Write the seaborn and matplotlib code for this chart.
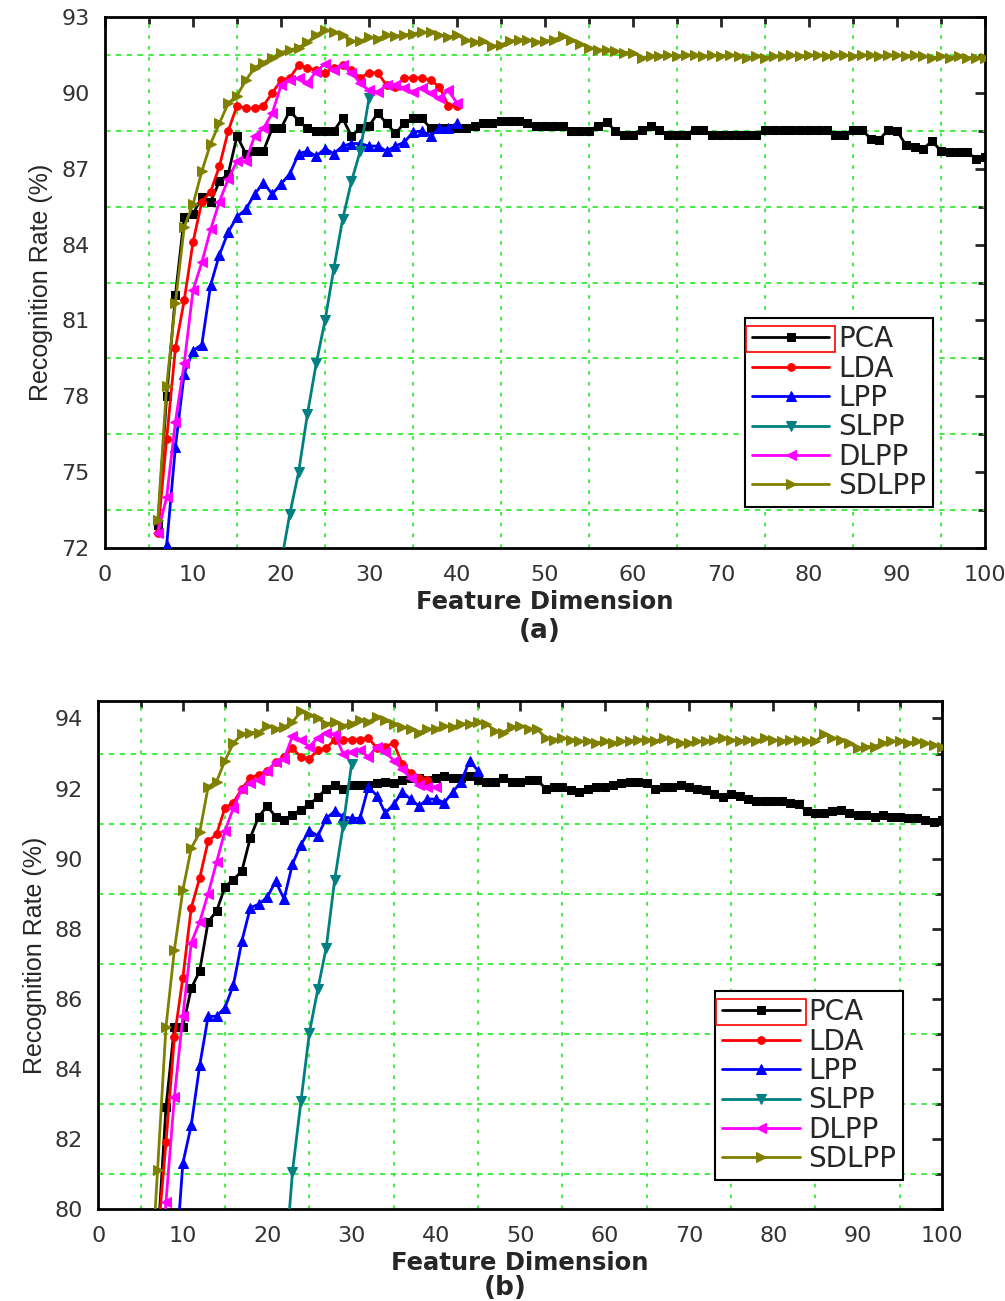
import numpy as np
import pandas as pd
import seaborn as sns
import matplotlib.pyplot as plt
from matplotlib.ticker import MultipleLocator
from matplotlib.patches import Rectangle

# ---- data, panel (a) ----
dim_a_long = list(range(6, 101))
pca_a = [72.9, 78.0, 82.0, 85.1, 85.2, 85.9, 85.7, 86.5, 86.8, 88.3,
         87.6, 87.7, 87.7, 88.6, 88.6, 89.3, 88.9, 88.6, 88.5, 88.5,
         88.5, 89.0, 88.3, 88.6, 88.7, 89.2, 88.8, 88.4, 88.8, 89.0,
         89.0, 88.6, 88.6, 88.6, 88.6, 88.6, 88.7, 88.8, 88.8, 88.9,
         88.9, 88.9, 88.8, 88.7, 88.7, 88.7, 88.7, 88.5, 88.5, 88.5,
         88.7, 88.85, 88.5, 88.35, 88.35, 88.55, 88.7, 88.55, 88.35, 88.35,
         88.35, 88.55, 88.55, 88.35, 88.35, 88.35, 88.35, 88.35, 88.35, 88.55,
         88.55, 88.55, 88.55, 88.55, 88.55, 88.55, 88.55, 88.35, 88.35, 88.55,
         88.55, 88.2, 88.15, 88.55, 88.5, 87.95, 87.85, 87.8, 88.1, 87.7,
         87.65, 87.65, 87.65, 87.4, 87.45]
sdlpp_a = [73.1, 78.4, 81.7, 84.7, 85.6, 86.9, 88.0, 88.8, 89.6, 89.9,
           90.5, 91.0, 91.2, 91.4, 91.6, 91.7, 91.8, 92.0, 92.3, 92.5,
           92.4, 92.3, 92.05, 92.05, 92.2, 92.15, 92.3, 92.25, 92.3, 92.35,
           92.4, 92.4, 92.3, 92.2, 92.3, 92.1, 92.0, 92.05, 91.85, 91.9,
           92.05, 92.1, 92.1, 92.0, 92.05, 92.1, 92.25, 92.1, 91.95, 91.8,
           91.7, 91.7, 91.65, 91.6, 91.6, 91.4, 91.45, 91.45, 91.5, 91.45,
           91.5, 91.5, 91.45, 91.5, 91.45, 91.5, 91.45, 91.4, 91.45, 91.4,
           91.45, 91.45, 91.5, 91.45, 91.5, 91.5, 91.45, 91.5, 91.5, 91.45,
           91.5, 91.5, 91.45, 91.5, 91.5, 91.45, 91.5, 91.45, 91.4, 91.45,
           91.4, 91.45, 91.4, 91.4, 91.4]
dim_a_short = list(range(6, 41))
lda_a = [72.6, 76.3, 79.9, 81.8, 84.1, 85.7, 86.1, 87.1, 88.5, 89.5,
         89.4, 89.4, 89.5, 90.0, 90.5, 90.6, 91.1, 91.0, 90.9, 90.8,
         91.0, 91.1, 90.9, 90.6, 90.8, 90.8, 90.3, 90.25, 90.6, 90.6,
         90.6, 90.5, 90.25, 89.5, 89.5]
dlpp_a = [72.6, 74.0, 77.0, 79.3, 82.2, 83.3, 84.6, 85.7, 86.6, 87.3,
          87.3, 88.3, 88.6, 89.2, 90.3, 90.5, 90.6, 90.4, 90.85, 91.15,
          90.9, 91.1, 90.8, 90.4, 90.1, 90.05, 90.3, 90.3, 90.2, 90.05,
          90.2, 90.0, 89.8, 90.1, 89.6]
dim_a_lpp = list(range(7, 41))
lpp_a = [72.1, 76.0, 78.9, 79.8, 80.05, 82.4, 83.6, 84.5, 85.1, 85.4,
         86.0, 86.45, 86.0, 86.4, 86.8, 87.6, 87.7, 87.5, 87.8, 87.6,
         87.9, 88.0, 88.0, 87.9, 87.9, 87.7, 87.9, 88.05, 88.45, 88.5,
         88.3, 88.6, 88.6, 88.8]
dim_a_slpp = list(range(20, 31))
slpp_a = [71.4, 73.35, 75.0, 77.3, 79.3, 81.0, 83.05, 85.0, 86.5, 87.7, 89.8]

# ---- data, panel (b) ----
dim_b_pca = list(range(7, 101))
pca_b = [79.0, 82.9, 85.2, 85.2, 86.3, 86.8, 88.2, 88.5, 89.2, 89.4,
         89.65, 90.6, 91.2, 91.5, 91.2, 91.1, 91.25, 91.4, 91.55, 91.75,
         92.0, 92.1, 92.0, 92.1, 92.1, 92.1, 92.15, 92.2, 92.15, 92.25,
         92.3, 92.3, 92.25, 92.3, 92.35, 92.3, 92.3, 92.35, 92.25, 92.2,
         92.2, 92.3, 92.2, 92.2, 92.25, 92.25, 92.0, 92.05, 92.05, 91.95,
         91.9, 92.0, 92.05, 92.05, 92.1, 92.15, 92.2, 92.2, 92.15, 92.0,
         92.05, 92.05, 92.1, 92.05, 92.0, 91.95, 91.85, 91.75, 91.85, 91.8,
         91.7, 91.65, 91.65, 91.65, 91.65, 91.6, 91.55, 91.35, 91.3, 91.3,
         91.35, 91.4, 91.3, 91.25, 91.25, 91.2, 91.25, 91.2, 91.2, 91.15,
         91.15, 91.1, 91.05, 91.1]
dim_b_sdlpp = list(range(6, 101))
sdlpp_b = [77.0, 81.1, 85.2, 87.4, 89.1, 90.3, 90.75, 92.05, 92.2, 92.8,
           93.3, 93.55, 93.6, 93.6, 93.8, 93.7, 93.75, 93.9, 94.2, 94.1,
           94.0, 93.85, 93.9, 93.8, 93.85, 93.95, 93.9, 94.05, 93.95, 93.85,
           93.75, 93.7, 93.6, 93.7, 93.7, 93.8, 93.75, 93.85, 93.85, 93.9,
           93.85, 93.65, 93.6, 93.75, 93.8, 93.7, 93.7, 93.45, 93.4, 93.45,
           93.4, 93.35, 93.35, 93.3, 93.35, 93.3, 93.35, 93.35, 93.4, 93.4,
           93.35, 93.45, 93.4, 93.3, 93.3, 93.35, 93.35, 93.4, 93.45, 93.4,
           93.35, 93.4, 93.35, 93.45, 93.4, 93.35, 93.4, 93.4, 93.35, 93.35,
           93.55, 93.45, 93.4, 93.3, 93.15, 93.2, 93.2, 93.3, 93.35, 93.35,
           93.3, 93.35, 93.3, 93.25, 93.2]
dim_b_lda = list(range(7, 40))
lda_b = [79.1, 81.9, 84.9, 86.6, 88.6, 89.45, 90.5, 90.7, 91.45, 91.6,
         92.0, 92.3, 92.4, 92.5, 92.75, 92.9, 93.15, 92.9, 92.85, 93.1,
         93.15, 93.4, 93.4, 93.4, 93.4, 93.45, 93.15, 93.2, 93.3, 92.7,
         92.45, 92.3, 92.25]
dim_b_dlpp = list(range(7, 41))
dlpp_b = [77.0, 80.2, 83.2, 85.5, 87.6, 88.2, 89.0, 89.9, 90.8, 91.45,
          92.0, 92.15, 92.25, 92.5, 92.75, 92.85, 93.5, 93.4, 93.2, 93.45,
          93.6, 93.55, 93.0, 93.05, 93.1, 92.9, 93.2, 93.05, 92.8, 92.55,
          92.3, 92.1, 92.05, 92.05]
dim_b_lpp = list(range(9, 46))
lpp_b = [78.0, 81.3, 82.4, 84.1, 85.5, 85.5, 85.75, 86.4, 87.65, 88.6,
         88.7, 88.9, 89.35, 88.85, 89.85, 90.4, 90.8, 90.65, 91.15, 91.35,
         91.2, 91.15, 91.15, 92.05, 91.8, 91.3, 91.55, 91.9, 91.7, 91.5,
         91.7, 91.7, 91.6, 91.9, 92.2, 92.8, 92.5]
dim_b_slpp = list(range(22, 31))
slpp_b = [78.0, 81.07, 83.07, 85.03, 86.27, 87.46, 89.4, 90.93, 92.7]

methods = ['PCA', 'LDA', 'LPP', 'SLPP', 'DLPP', 'SDLPP']
colors = {'PCA': 'black', 'LDA': 'red', 'LPP': 'blue', 'SLPP': '#008080',
          'DLPP': 'magenta', 'SDLPP': '#808000'}
markers = {'PCA': 's', 'LDA': 'o', 'LPP': '^', 'SLPP': 'v', 'DLPP': '<', 'SDLPP': '>'}
msize = {'PCA': 5.5, 'LDA': 5.5, 'LPP': 7, 'SLPP': 7, 'DLPP': 7, 'SDLPP': 7}

panel_a = {'PCA': (dim_a_long, pca_a), 'LDA': (dim_a_short, lda_a),
           'LPP': (dim_a_lpp, lpp_a), 'SLPP': (dim_a_slpp, slpp_a),
           'DLPP': (dim_a_short, dlpp_a), 'SDLPP': (dim_a_long, sdlpp_a)}
panel_b = {'PCA': (dim_b_pca, pca_b), 'LDA': (dim_b_lda, lda_b),
           'LPP': (dim_b_lpp, lpp_b), 'SLPP': (dim_b_slpp, slpp_b),
           'DLPP': (dim_b_dlpp, dlpp_b), 'SDLPP': (dim_b_sdlpp, sdlpp_b)}

sns.set_style('white')
plt.rcParams['font.family'] = ['DejaVu Sans']

fig = plt.figure(figsize=(10.05, 13.01), dpi=100)
ax_a = fig.add_axes([0.1045, 0.5788, 0.8756, 0.408])
ax_b = fig.add_axes([0.098, 0.0707, 0.8393, 0.3905])

grid_green = '#33ee33'


def draw_panel(ax, data, ylim, ymajor, yminor, leg_anchor):
    for m in methods:
        xs, ys = data[m]
        df = pd.DataFrame({'dim': xs, 'rate': ys})
        sns.lineplot(data=df, x='dim', y='rate', ax=ax, color=colors[m],
                     marker=markers[m], markersize=msize[m],
                     markeredgecolor=colors[m], linewidth=2.0,
                     label=m, zorder=3)
    ax.set_xlim(0, 100)
    ax.set_ylim(*ylim)
    ax.xaxis.set_major_locator(MultipleLocator(10))
    ax.xaxis.set_minor_locator(MultipleLocator(5))
    ax.yaxis.set_major_locator(MultipleLocator(ymajor))
    ax.yaxis.set_minor_locator(MultipleLocator(yminor))
    ax.grid(False)
    ax.grid(which='minor', axis='x', color=grid_green, linestyle=(0, (2, 4)), linewidth=1.3)
    ax.grid(which='minor', axis='y', color=grid_green, linestyle=(0, (3, 3)), linewidth=1.3)
    for s in ax.spines.values():
        s.set_linewidth(2)
        s.set_color('black')
    ax.tick_params(axis='x', which='both', direction='out', width=2,
                   labelsize=16, labelcolor='#333333', pad=5)
    ax.tick_params(axis='x', which='major', length=7)
    ax.tick_params(axis='x', which='minor', length=5)
    ax.tick_params(axis='y', which='major', direction='out', length=7, width=2,
                   labelsize=16, labelcolor='#333333', pad=4)
    ax.tick_params(axis='y', which='minor', direction='in', length=5, width=2)
    # top / right ticks pointing in
    top = ax.secondary_xaxis('top')
    top.xaxis.set_major_locator(MultipleLocator(10))
    top.xaxis.set_minor_locator(MultipleLocator(5))
    top.tick_params(which='both', direction='in', width=2, labeltop=False)
    top.tick_params(which='major', length=7)
    top.tick_params(which='minor', length=5)
    right = ax.secondary_yaxis('right')
    right.yaxis.set_major_locator(MultipleLocator(ymajor))
    right.yaxis.set_minor_locator(MultipleLocator(yminor))
    right.tick_params(which='both', direction='in', width=2, labelright=False)
    right.tick_params(which='major', length=7)
    right.tick_params(which='minor', length=5)

    ax.set_xlabel('Feature Dimension', fontsize=17.5, fontweight='bold', labelpad=4)
    ax.set_ylabel('Recognition Rate (%)', fontsize=18,
                  family=['Liberation Sans Narrow', 'Liberation Sans'], labelpad=6)
    leg = ax.legend(loc='lower left', bbox_to_anchor=leg_anchor, borderaxespad=0,
                    fontsize=20, handlelength=2.8, labelspacing=0.05,
                    handletextpad=0.3, borderpad=0.25, fancybox=False,
                    framealpha=1, edgecolor='black')
    leg.get_frame().set_linewidth(1.5)
    return leg


leg_a = draw_panel(ax_a, panel_a, (72, 93), 3, 1.5, (0.727, 0.077))
leg_b = draw_panel(ax_b, panel_b, (80, 94.5), 2, 1, (0.731, 0.057))

fig.text(0.537, 0.515, '(a)', fontsize=19, fontweight='bold', ha='center', va='center')
fig.text(0.5025, 0.010, '(b)', fontsize=19, fontweight='bold', ha='center', va='center')

# red selection box around the PCA legend handle (as in the source figure)
fig.canvas.draw()
renderer = fig.canvas.get_renderer()
for leg in (leg_a, leg_b):
    h = leg.legend_handles[0].get_window_extent(renderer)
    t = leg.get_texts()[0].get_window_extent(renderer)
    x0, x1 = h.x0 - 2, h.x1 + 2
    y0, y1 = t.y0 + 1, t.y1 - 1
    inv = fig.transFigure.inverted()
    (fx0, fy0), (fx1, fy1) = inv.transform([(x0, y0), (x1, y1)])
    fig.patches.append(Rectangle((fx0, fy0), fx1 - fx0, fy1 - fy0, fill=False,
                                 edgecolor='red', linewidth=1.2,
                                 transform=fig.transFigure, zorder=10))

fig.savefig('out.png', dpi=100)
